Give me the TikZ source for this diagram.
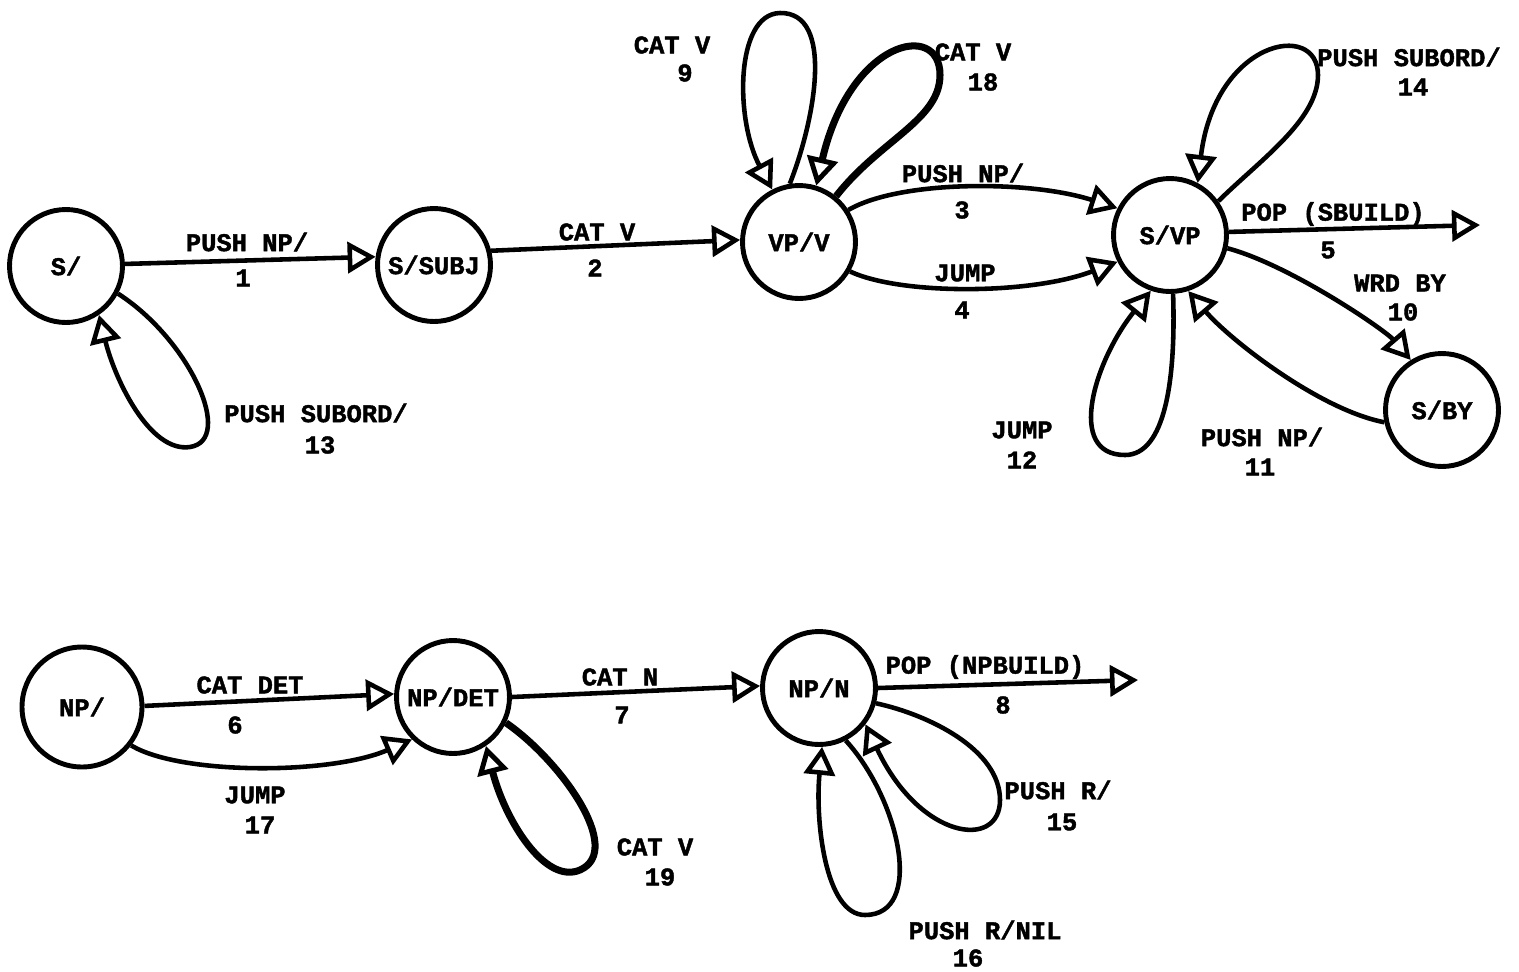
\documentclass[tikz,border=0pt]{standalone}
\usepackage{fontspec}
\newfontfamily\atnfam{Liberation Mono}[BoldFeatures={FakeBold=1.6}]
\usetikzlibrary{arrows.meta}
\newcommand\atnfont{\atnfam\bfseries\fontsize{14.5}{16}\selectfont}
\begin{document}
\begin{tikzpicture}[x=0.02cm,y=-0.02cm,
  st/.style={circle,draw,line width=2.8pt,minimum size=2.26cm,inner sep=0pt,font=\atnfont},
  lab/.style={font=\atnfont,inner sep=0pt},
  arr/.style={line width=2.6pt,-{Triangle[open,length=0.56cm,width=0.62cm,line width=2.6pt]}},
  arrthick/.style={line width=4pt,-{Triangle[open,length=0.56cm,width=0.62cm,line width=2.8pt]}}]
\fill[white] (0,0) rectangle (1519,971);
\useasboundingbox (0,0) rectangle (1519,971);

% states
\node[st] (S) at (66,266) {S/};
\node[st] (SUBJ) at (434,265) {S/SUBJ};
\node[st] (V) at (799,242) {VP/V};
\node[st] (VP) at (1170,235) {S/VP};
\node[st] (BY) at (1442,410) {S/BY};
\node[st,minimum size=2.4cm] (NP) at (82,707) {NP/};
\node[st] (DET) at (453,697) {NP/DET};
\node[st] (N) at (819,688) {NP/N};
\coordinate (popS) at (1480,225);
\coordinate (popNP) at (1138,680);

% top network arcs
\draw[arr] (S.2) -- (SUBJ.172);
\draw[arr] (SUBJ.14) -- (V.178);
\draw[arr] (V.33) .. controls (900,180) and (1030,180) .. (VP.153);
\draw[arr] (V.-30) .. controls (900,295) and (1030,295) .. (VP.-153);
\draw[arr] (VP.3) -- (popS);
\draw[arr] (VP.-13) .. controls (1290,265) and (1385,330) .. (BY.122);
\draw[arr] (BY.-168) .. controls (1320,410) and (1230,340) .. (VP.-72);
\draw[arr] (S.-28) .. controls (190,340) and (235,440) .. (190,447)
   .. controls (150,453) and (115,380) .. (S.-56);
\draw[arr] (V.99) .. controls (815,120) and (835,12) .. (780,13)
   .. controls (735,14) and (735,120) .. (V.117);
\draw[arrthick] (V.51) .. controls (880,140) and (940,120) .. (940,75)
   .. controls (940,20) and (850,40) .. (V.73);
\draw[arr] (VP.35) .. controls (1260,160) and (1318,120) .. (1318,75)
   .. controls (1318,20) and (1215,40) .. (VP.62);
\draw[arr] (VP.-87) .. controls (1176,380) and (1165,455) .. (1125,455)
   .. controls (1065,455) and (1095,360) .. (VP.-109);

% bottom network arcs
\draw[arr] (NP.1) -- (DET.177);
\draw[arr] (NP.-38) .. controls (180,775) and (330,775) .. (DET.-134);
\draw[arr] (DET.0) -- (N.178);
\draw[arr] (N.0) -- (popNP);
\draw[arrthick] (DET.-26) .. controls (560,760) and (625,850) .. (580,870)
   .. controls (545,885) and (505,820) .. (DET.-56);
\draw[arr] (N.-15) .. controls (930,715) and (1000,750) .. (1000,800)
   .. controls (1000,850) and (920,840) .. (N.-38);
\draw[arr] (N.-63) .. controls (900,800) and (925,915) .. (865,915)
   .. controls (825,915) and (815,820) .. (N.-87);

% labels
\node[lab] (t1) at (247,242) {PUSH NP/};
\node[lab] (n1) at (243,278) {1};
\node[lab] (t2) at (597,232) {CAT V};
\node[lab] (n2) at (595,268) {2};
\node[lab] (t3) at (963,173) {PUSH NP/};
\node[lab] (n3) at (962,210) {3};
\node[lab] (t4) at (965,273) {JUMP};
\node[lab] (n4) at (962,310) {4};
\node[lab] (t5) at (1333,214) {POP (SBUILD)};
\node[lab] (n5) at (1328,250) {5};
\node[lab] (t10) at (1400,283) {WRD BY};
\node[lab] (n10) at (1403,312) {10};
\node[lab] (t11) at (1262,437) {PUSH NP/};
\node[lab] (n11) at (1260,467) {11};
\node[lab] (t12) at (1022,430) {JUMP};
\node[lab] (n12) at (1022,460) {12};
\node[lab] (t14) at (1409,57) {PUSH SUBORD/};
\node[lab] (n14) at (1413,87) {14};
\node[lab] (t9) at (672,45) {CAT V};
\node[lab] (n9) at (685,73) {9};
\node[lab] (t18) at (973,52) {CAT V};
\node[lab] (n18) at (983,82) {18};
\node[lab] (t13) at (316,413) {PUSH SUBORD/};
\node[lab] (n13) at (320,445) {13};
\node[lab] (t6) at (250,685) {CAT DET};
\node[lab] (n6) at (235,725) {6};
\node[lab] (t17) at (255,795) {JUMP};
\node[lab] (n17) at (260,825) {17};
\node[lab] (t7) at (620,677) {CAT N};
\node[lab] (n7) at (622,715) {7};
\node[lab] (t8) at (985,667) {POP (NPBUILD)};
\node[lab] (n8) at (1003,705) {8};
\node[lab] (t19) at (655,847) {CAT V};
\node[lab] (n19) at (660,877) {19};
\node[lab] (t15) at (1058,790) {PUSH R/};
\node[lab] (n15) at (1062,822) {15};
\node[lab] (t16) at (985,930) {PUSH R/NIL};
\node[lab] (n16) at (968,958) {16};
\end{tikzpicture}
\end{document}
